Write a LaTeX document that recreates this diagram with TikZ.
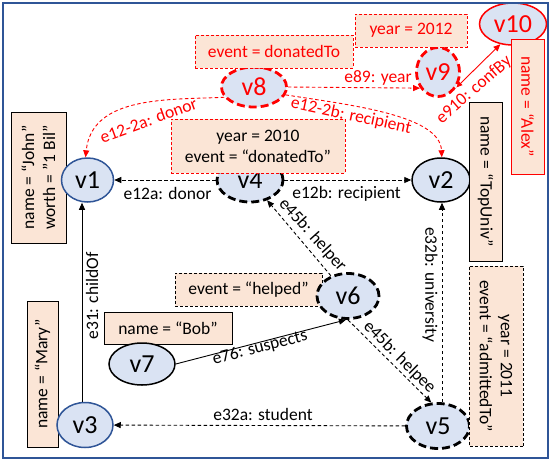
\documentclass[tikz,border=0pt]{standalone}
\usepackage{fontspec}
\setmainfont{Carlito}
\usetikzlibrary{shapes.geometric,arrows.meta}
\definecolor{vfill}{HTML}{DAE3F3}
\definecolor{bfill}{HTML}{FBE5D6}
\definecolor{fblue}{HTML}{2F5597}
\definecolor{myred}{HTML}{FF0000}
\newcommand{\edgefont}{\fontsize{17.5}{21}\selectfont}
\newcommand{\vfont}{\fontsize{26}{30}\selectfont}
\tikzset{
  vtx/.style={ellipse, inner sep=0pt, fill=vfill, font=\vfont, line width=1.5pt},
  vsolid/.style={vtx, draw=black},
  vblue/.style={vtx, draw=fblue},
  vdash/.style={vtx, draw=black, line width=2.8pt, dash pattern=on 8pt off 4pt},
  vreddash/.style={vtx, draw=myred, text=myred, line width=2.8pt, dash pattern=on 8pt off 4pt},
  vred/.style={vtx, draw=myred, text=myred},
  prop/.style={rectangle, fill=bfill, draw=black, line width=0.9pt, inner sep=0pt, font=\edgefont, align=center},
  propdash/.style={prop, dash pattern=on 3pt off 2pt},
  propred/.style={prop, draw=myred, dash pattern=on 3pt off 2pt},
  elabel/.style={font=\edgefont, inner sep=1pt},
  redlabel/.style={elabel, text=myred},
  conn/.style={line width=0.9pt, -{Triangle[length=7pt,width=6pt]}},
  dconn/.style={conn, dash pattern=on 3.5pt off 2.5pt},
  rconn/.style={dconn, color=myred},
  rsolid/.style={line width=0.9pt, color=myred, {Triangle[length=6pt,width=5pt]}-{Triangle[length=7pt,width=6pt]}}
}
\begin{document}
\begin{tikzpicture}[x=1pt,y=-1pt]
\useasboundingbox (0,0) rectangle (551,461);
% boxes under ellipses
\node[prop, rotate=90, minimum width=131pt, minimum height=55pt] (pjohn) at (38.5,177.5) {name = “John”\\worth = "1 Bil"};
\node[prop, rotate=90, minimum width=146pt, minimum height=31pt] (pmary) at (42.5,374) {name = “Mary”};
% vertices
\node[vblue, minimum width=52pt, minimum height=44pt] (v1) at (87.5,180) {v1};
\node[vsolid, minimum width=58pt, minimum height=44pt] (v2) at (441,180) {v2};
\node[vblue, minimum width=56pt, minimum height=45pt] (v3) at (85,425) {v3};
\node[vdash, minimum width=66pt, minimum height=44pt] (v4) at (250,180) {v4};
\node[vdash, minimum width=63pt, minimum height=45pt] (v5) at (438,426) {v5};
\node[vreddash, minimum width=65pt, minimum height=40pt] (v8) at (254,87) {v8};
\node[vreddash, minimum width=43pt, minimum height=49pt] (v9) at (438,72) {v9};
\node[vred, minimum width=67pt, minimum height=42pt] (v10) at (513,24) {v10};
% property boxes
\node[prop, minimum width=128pt, minimum height=32pt] (pbob) at (168,328) {name = “Bob”};
\node[propdash, minimum width=147pt, minimum height=33pt] (phelp) at (248.5,289.5) {event = “helped”};
\node[prop, rotate=-90, minimum width=159pt, minimum height=33pt] (ptop) at (485.5,181.5) {name = “TopUniv”};
\node[propdash, rotate=-90, minimum width=180pt, minimum height=54pt] (padm) at (496,356) {year = 2011\\event = “admittedTo”};
\node[prop, draw=myred, text=myred, rotate=-90, minimum width=135pt, minimum height=33pt] (palex) at (527.5,106.5) {name = “Alex”};
\node[propred, minimum width=174pt, minimum height=54pt] (pdon) at (258,146) {year = 2010\\event = “donatedTo”};
\node[propred, text=myred, minimum width=158pt, minimum height=33pt] (pev8) at (274,51.5) {event = donatedTo};
\node[propred, text=myred, minimum width=112pt, minimum height=33pt] (pyr) at (411,30.5) {year = 2012};
% vertices on top of boxes
\node[vdash, minimum width=62pt, minimum height=45pt] (v6) at (348,296) {v6};
\node[vsolid, minimum width=66pt, minimum height=42pt] (v7) at (142,364) {v7};
% helper coordinates
\coordinate (x31) at (82,0);
\coordinate (x32) at (442,0);
% edges
\draw[dconn] (v4) -- (v1);
\draw[dconn] (v4) -- (v2);
\draw[conn] (v3.north -| x31) -- (v1.south -| x31);
\draw[dconn] (v5) -- (v3);
\draw[dconn] (v5.north -| x32) -- (v2.south -| x32);
\draw[dconn] (v6) -- (v4);
\draw[dconn] (v6.south) -- (v5.106);
\draw[conn] (v7.east) -- (v6.265);
\draw[rconn] (v8.199) .. controls (170,100) and (92,95) .. (v1.95);
\draw[rconn] (v8.346) .. controls (350,105) and (440,115) .. (v2.88);
\draw[rconn] (v8.east) -- (v9.222);
\draw[rsolid] (v9.-40) -- (v10.238);
% edge labels
\node[elabel] (l12a) at (167.5,193) {e12a: donor};
\node[elabel] (l12b) at (346.5,194) {e12b: recipient};
\node[elabel, rotate=90] (l31) at (92,296) {e31: childOf};
\node[elabel] (l32a) at (263,414) {e32a: student};
\node[elabel, rotate=-90] (l32b) at (430,284.5) {e32b: university};
\node[elabel, rotate=-48] (l45a) at (312.5,235) {e45b: helper};
\node[elabel, rotate=-45] (l45b) at (399.5,357.5) {e45b: helpee};
\node[elabel, rotate=14.5] (l76) at (260,348) {e76: suspects};
\node[redlabel, rotate=20] (l122a) at (148.5,120) {e12-2a: donor};
\node[redlabel, rotate=-12] (l122b) at (351,116) {e12-2b: recipient};
\node[redlabel] (l89) at (378,78) {e89: year};
\node[redlabel, rotate=41] (l910) at (474,90) {e910: confBy};
% frame
\draw[fblue, line width=2pt] (3,3) rectangle (548,458);
\end{tikzpicture}
\end{document}
